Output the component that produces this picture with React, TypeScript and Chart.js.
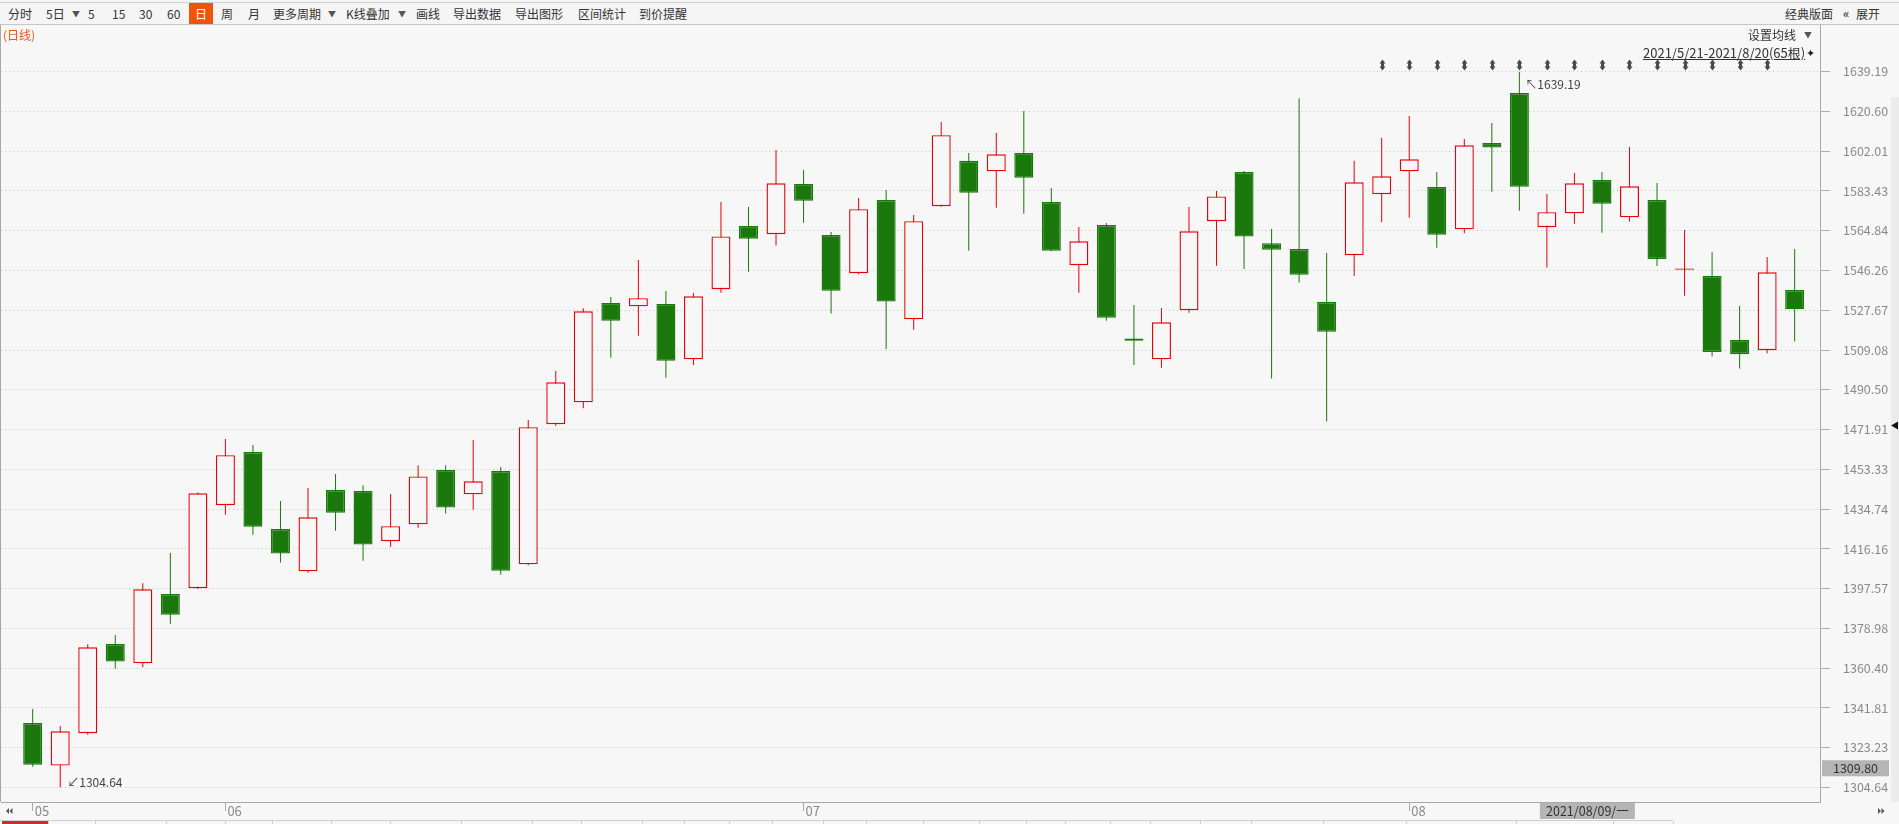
import React, { useEffect, useRef } from 'react';
import { Chart, registerables } from 'chart.js';

Chart.register(...registerables);

// ---------------- data ----------------
const dates = [
  '2021/05/21', '2021/05/24', '2021/05/25', '2021/05/26', '2021/05/27', '2021/05/28', '2021/05/31',
  '2021/06/01', '2021/06/02', '2021/06/03', '2021/06/04', '2021/06/07', '2021/06/08', '2021/06/09',
  '2021/06/10', '2021/06/11', '2021/06/15', '2021/06/16', '2021/06/17', '2021/06/18', '2021/06/21',
  '2021/06/22', '2021/06/23', '2021/06/24', '2021/06/25', '2021/06/28', '2021/06/29', '2021/06/30',
  '2021/07/01', '2021/07/02', '2021/07/05', '2021/07/06', '2021/07/07', '2021/07/08', '2021/07/09',
  '2021/07/12', '2021/07/13', '2021/07/14', '2021/07/15', '2021/07/16', '2021/07/19', '2021/07/20',
  '2021/07/21', '2021/07/22', '2021/07/23', '2021/07/26', '2021/07/27', '2021/07/28', '2021/07/29',
  '2021/07/30', '2021/08/02', '2021/08/03', '2021/08/04', '2021/08/05', '2021/08/06', '2021/08/09',
  '2021/08/10', '2021/08/11', '2021/08/12', '2021/08/13', '2021/08/16', '2021/08/17', '2021/08/18',
  '2021/08/19', '2021/08/20',
];

const opens = [
  1334.7, 1314.8, 1329.9, 1371.6, 1362.6, 1395.0, 1397.7, 1436.5, 1461.4, 1425.4,
  1405.6, 1443.6, 1443.2, 1419.7, 1427.6, 1453.0, 1441.6, 1452.5, 1408.9, 1474.4,
  1484.6, 1531.1, 1529.5, 1530.6, 1504.7, 1537.5, 1567.1, 1563.2, 1586.7, 1562.9,
  1545.0, 1579.2, 1523.4, 1576.3, 1597.5, 1592.6, 1601.2, 1578.3, 1548.7, 1567.5,
  1514.4, 1504.7, 1527.7, 1569.3, 1592.3, 1559.0, 1556.3, 1531.5, 1553.4, 1581.9,
  1592.6, 1585.3, 1565.5, 1605.9, 1629.2, 1566.5, 1573.0, 1588.6, 1571.1, 1579.2,
  1546.6, 1543.7, 1513.8, 1509.0, 1537.1,
];
const highs = [
  1341.3, 1333.3, 1371.5, 1375.9, 1400.0, 1414.2, 1442.5, 1467.5, 1464.7, 1438.5,
  1444.6, 1451.1, 1445.8, 1441.8, 1455.2, 1455.2, 1467.0, 1454.4, 1476.4, 1499.3,
  1528.6, 1533.9, 1551.2, 1536.7, 1535.7, 1578.3, 1575.9, 1602.6, 1593.2, 1564.3,
  1580.2, 1583.9, 1572.2, 1615.7, 1601.2, 1610.5, 1620.8, 1584.8, 1566.6, 1568.5,
  1530.1, 1528.7, 1575.9, 1583.4, 1592.8, 1565.7, 1626.8, 1554.4, 1597.5, 1608.2,
  1618.5, 1592.3, 1607.7, 1615.2, 1639.19, 1582.0, 1591.8, 1592.3, 1604.0, 1587.2,
  1565.2, 1554.9, 1529.7, 1552.6, 1556.3,
];
const lows = [
  1314.3, 1304.64, 1329.2, 1360.1, 1360.8, 1381.1, 1397.3, 1432.1, 1422.7, 1409.7,
  1405.0, 1424.6, 1410.6, 1417.1, 1426.0, 1432.6, 1434.4, 1404.0, 1408.5, 1473.7,
  1481.8, 1505.5, 1515.8, 1496.1, 1502.1, 1535.9, 1545.7, 1557.9, 1568.6, 1526.1,
  1544.5, 1509.6, 1518.6, 1576.0, 1555.5, 1575.6, 1572.8, 1555.3, 1535.9, 1522.8,
  1502.1, 1500.8, 1526.5, 1548.5, 1547.0, 1495.7, 1540.6, 1475.7, 1543.7, 1568.9,
  1570.9, 1556.9, 1563.7, 1583.1, 1574.2, 1547.6, 1568.1, 1563.9, 1569.1, 1548.4,
  1534.5, 1506.0, 1500.4, 1507.6, 1513.0,
];
const closes = [
  1315.2, 1330.8, 1370.1, 1363.4, 1397.2, 1385.3, 1442.1, 1459.9, 1426.5, 1413.9,
  1430.9, 1433.0, 1418.1, 1426.7, 1450.0, 1435.4, 1447.7, 1405.9, 1473.0, 1494.0,
  1527.2, 1522.8, 1533.3, 1504.1, 1534.2, 1562.2, 1561.1, 1587.0, 1578.9, 1536.8,
  1574.9, 1531.7, 1569.3, 1609.5, 1582.6, 1600.6, 1589.6, 1555.5, 1559.9, 1524.2,
  1513.4, 1522.0, 1564.6, 1580.9, 1562.1, 1556.0, 1544.3, 1517.6, 1587.5, 1590.3,
  1598.2, 1563.0, 1604.8, 1603.7, 1585.4, 1573.5, 1587.0, 1577.5, 1585.6, 1551.6,
  1547.2, 1508.2, 1507.1, 1545.4, 1528.1,
];

const yTickValues = [
  1304.64, 1323.23, 1341.81, 1360.40, 1378.98, 1397.57, 1416.16, 1434.74, 1453.33, 1471.91,
  1490.50, 1509.08, 1527.67, 1546.26, 1564.84, 1583.43, 1602.01, 1620.60, 1639.19,
];
const markerIndices = [49, 50, 51, 52, 53, 54, 55, 56, 57, 58, 59, 60, 61, 62, 63];
const crosshairPrice = 1309.80;
const crosshairIndex = 55;
const crosshairWeekday = '一';
const markedPrice = 1471.91;
const rangeText = '2021/5/21-2021/8/20(65根)';

// month boundary ticks derived from the dates
const monthStarts: number[] = [];
dates.forEach((d, i) => {
  if (i === 0 || d.slice(5, 7) !== dates[i - 1].slice(5, 7)) monthStarts.push(i);
});

// ---------------- styling ----------------
const FONT = '"Noto Sans CJK SC", "Noto Sans", sans-serif';
const UP = '#e3000b';
const DOWN = '#1b780c';
const BG = '#f7f7f7';
const AXIS = '#a9a9a9';
const LABEL = '#8a8a8a';

const isUp = closes.map((c, i) => c >= opens[i]);

const overlayPlugin = {
  id: 'overlay',
  afterDraw(chart: any) {
    const { ctx, chartArea: a, scales } = chart;
    const x = scales.x;
    const y = scales.y;
    ctx.save();
    // left frame line
    ctx.strokeStyle = AXIS;
    ctx.lineWidth = 1;
    ctx.beginPath();
    ctx.moveTo(0.5, a.top);
    ctx.lineTo(0.5, a.bottom);
    ctx.stroke();

    // event markers
    ctx.fillStyle = '#4a4a4a';
    for (const i of markerIndices) {
      const px = Math.round(x.getPixelForValue(i)) + 0.5;
      const cy = 65;
      ctx.beginPath();
      ctx.moveTo(px, cy - 5.5);
      ctx.lineTo(px - 3, cy - 1.5);
      ctx.lineTo(px + 3, cy - 1.5);
      ctx.closePath();
      ctx.fill();
      ctx.beginPath();
      ctx.moveTo(px, cy + 5.5);
      ctx.lineTo(px - 3, cy + 1.5);
      ctx.lineTo(px + 3, cy + 1.5);
      ctx.closePath();
      ctx.fill();
      ctx.fillRect(px - 1.5, cy - 2, 3, 4);
    }

    // max / min annotations
    const hiIdx = highs.indexOf(Math.max(...highs));
    const loIdx = lows.indexOf(Math.min(...lows));
    ctx.font = `12px ${FONT}`;
    ctx.fillStyle = '#444';
    ctx.textBaseline = 'middle';
    ctx.textAlign = 'left';
    ctx.fillText('↖' + highs[hiIdx].toFixed(2), x.getPixelForValue(hiIdx) + 6, y.getPixelForValue(highs[hiIdx]) + 13);
    ctx.fillText('↙' + lows[loIdx].toFixed(2), x.getPixelForValue(loIdx) + 7, y.getPixelForValue(lows[loIdx]) - 5);

    // right scrollbar strip
    ctx.fillStyle = '#ececec';
    ctx.fillRect(1891, 97, 8, a.bottom - 97);

    // marked price arrow
    const my = y.getPixelForValue(markedPrice) - 4;
    ctx.fillStyle = '#111';
    ctx.beginPath();
    ctx.moveTo(1891, my);
    ctx.lineTo(1898, my - 4);
    ctx.lineTo(1898, my + 4);
    ctx.closePath();
    ctx.fill();

    // crosshair price box
    const py = y.getPixelForValue(crosshairPrice);
    ctx.fillStyle = '#b5b5b5';
    ctx.fillRect(1822, py - 16, 67, 16);
    ctx.fillStyle = '#333';
    ctx.textAlign = 'center';
    ctx.font = `12.5px ${FONT}`;
    ctx.fillText(crosshairPrice.toFixed(2), 1855.5, py - 8);

    // crosshair date box
    const dx = x.getPixelForValue(crosshairIndex) - 7;
    ctx.fillStyle = '#b5b5b5';
    ctx.fillRect(dx, a.bottom + 1, 95, 16);
    ctx.fillStyle = '#333';
    ctx.fillText(`${dates[crosshairIndex]}/${crosshairWeekday}`, dx + 47.5, a.bottom + 9);

    // scroll arrows on the time axis
    ctx.fillStyle = '#555';
    const ay = a.bottom + 9;
    for (const bx of [6, 9.5]) {
      ctx.beginPath();
      ctx.moveTo(bx, ay);
      ctx.lineTo(bx + 3, ay - 3);
      ctx.lineTo(bx + 3, ay + 3);
      ctx.closePath();
      ctx.fill();
    }
    for (const bx of [1878, 1881.5]) {
      ctx.beginPath();
      ctx.moveTo(bx + 3, ay);
      ctx.lineTo(bx, ay - 3);
      ctx.lineTo(bx, ay + 3);
      ctx.closePath();
      ctx.fill();
    }
    ctx.restore();
  },
};

const toolbarItems = [
  { t: '分时', x: 8 }, { t: '5日', x: 46 }, { t: '▼', x: 72, small: true }, { t: '5', x: 88 },
  { t: '15', x: 112 }, { t: '30', x: 139 }, { t: '60', x: 167 }, { t: '周', x: 221 },
  { t: '月', x: 248 }, { t: '更多周期', x: 273 }, { t: '▼', x: 328, small: true },
  { t: 'K线叠加', x: 346 }, { t: '▼', x: 398, small: true }, { t: '画线', x: 416 },
  { t: '导出数据', x: 453 }, { t: '导出图形', x: 515 }, { t: '区间统计', x: 578 }, { t: '到价提醒', x: 639 },
];
const tabEdges = [48, 95, 166, 225, 272, 331, 390, 461, 532, 581, 642, 684, 729, 772, 823, 866, 923, 979, 1026, 1065, 1110, 1150, 1200, 1251, 1323, 1406, 1516, 1613, 1673];

function Txt(props: any) {
  const { x, y, size = 12, color = '#333', children, style } = props;
  return (
    <div
      style={{
        position: 'absolute', left: x, top: y - 9, height: 18, lineHeight: '18px',
        fontSize: size, color, whiteSpace: 'nowrap', ...style,
      }}
    >
      {children}
    </div>
  );
}

export default function App() {
  const ref = useRef<HTMLCanvasElement>(null);

  useEffect(() => {
    const canvas = ref.current;
    if (!canvas) return;
    const chart = new Chart(canvas, {
      type: 'bar',
      data: {
        datasets: [
          {
            label: 'body',
            data: opens.map((o, i) => ({ x: i, y: [o, closes[i]] })) as any,
            backgroundColor: isUp.map((u) => (u ? BG : DOWN)),
            borderColor: isUp.map((u) => (u ? UP : DOWN)),
            borderWidth: 1.4,
            borderSkipped: false,
            barThickness: 19,
            grouped: false,
            inflateAmount: 0,
            order: 1,
          } as any,
          {
            label: 'wick',
            data: lows.map((l, i) => ({ x: i, y: [l, highs[i]] })) as any,
            backgroundColor: isUp.map((u) => (u ? UP : DOWN)),
            borderWidth: 0,
            barThickness: 1,
            grouped: false,
            inflateAmount: 0,
            order: 2,
          } as any,
        ],
      },
      options: {
        responsive: false,
        animation: false,
        events: [],
        layout: { padding: { left: 1, top: 25, right: 0, bottom: 0 } },
        plugins: { legend: { display: false }, tooltip: { enabled: false } },
        scales: {
          x: {
            type: 'linear',
            min: -1.151,
            max: 64.92,
            offset: false,
            afterBuildTicks: (s: any) => {
              s.ticks = monthStarts.map((v) => ({ value: v }));
            },
            afterFit: (s: any) => {
              s.height = 22;
            },
            grid: { drawOnChartArea: false, drawTicks: true, tickLength: 9, tickColor: AXIS, offset: false },
            border: { display: true, color: AXIS },
            ticks: {
              autoSkip: false,
              maxRotation: 0,
              align: 'start',
              labelOffset: 2,
              padding: -8,
              color: LABEL,
              font: { family: FONT, size: 13 },
              callback: (v: any) => {
                const i = Number(v);
                return monthStarts.includes(i) ? dates[i].slice(5, 7) : '';
              },
            },
          } as any,
          y: {
            type: 'linear',
            position: 'right',
            min: 1297.77,
            max: 1661.02,
            afterBuildTicks: (s: any) => {
              s.ticks = yTickValues.map((v) => ({ value: v }));
            },
            afterFit: (s: any) => {
              s.width = 79;
            },
            grid: { color: '#c2c2c2', drawTicks: true, tickLength: 10, tickColor: '#b0b0b0', tickBorderDash: [] },
            border: { display: true, color: AXIS, dash: [1, 3] },
            ticks: {
              padding: 13,
              color: LABEL,
              font: { family: FONT, size: 12.5 },
              callback: (v: any) => Number(v).toFixed(2),
            },
          } as any,
        },
      },
      plugins: [overlayPlugin],
    });
    return () => chart.destroy();
  }, []);

  return (
    <div
      style={{
        position: 'fixed', left: 0, top: 0, width: 1899, height: 824, background: BG,
        overflow: 'hidden', fontFamily: FONT,
      }}
    >
      <canvas ref={ref} width={1899} height={824} style={{ position: 'absolute', left: 0, top: 0 }} />
      {/* toolbar */}
      <div
        style={{
          position: 'absolute', left: 0, top: 2, width: 1899, height: 23, boxSizing: 'border-box',
          borderTop: '1px solid #cfcfcf', borderBottom: '1px solid #c6c6c6', background: '#f5f5f5',
        }}
      />
      <div style={{ position: 'absolute', left: 189, top: 3, width: 24, height: 21, background: '#f2530b' }} />
      <Txt x={195} y={14} color="#fff">日</Txt>
      {toolbarItems.map((it, k) => (
        <Txt key={k} x={it.x} y={14} size={it.small ? 8 : 12} color={it.small ? '#555' : '#333'}>
          {it.t}
        </Txt>
      ))}
      <Txt x={1785} y={14}>经典版面</Txt>
      <Txt x={1843} y={13} size={12} color="#444" style={{ fontWeight: 'bold' }}>«</Txt>
      <Txt x={1856} y={14}>展开</Txt>

      {/* chart header texts */}
      <Txt x={3} y={35} color="#e8581c">(日线)</Txt>
      <Txt x={1748} y={35}>设置均线</Txt>
      <Txt x={1804} y={35} size={8} color="#555">▼</Txt>
      <Txt x={1643} y={53} size={13} style={{ textDecoration: 'underline' }}>{rangeText}</Txt>
      <Txt x={1806} y={52} size={11} color="#222">✦</Txt>

      {/* bottom tab row */}
      <div style={{ position: 'absolute', left: 0, top: 820, width: 1673, height: 4, borderTop: '1px solid #cfcfcf' }} />
      <div style={{ position: 'absolute', left: 2, top: 821, width: 46, height: 3, background: '#c8321e' }} />
      {tabEdges.map((e, k) => (
        <div key={k} style={{ position: 'absolute', left: e, top: 821, width: 1, height: 3, background: '#cfcfcf' }} />
      ))}
    </div>
  );
}
